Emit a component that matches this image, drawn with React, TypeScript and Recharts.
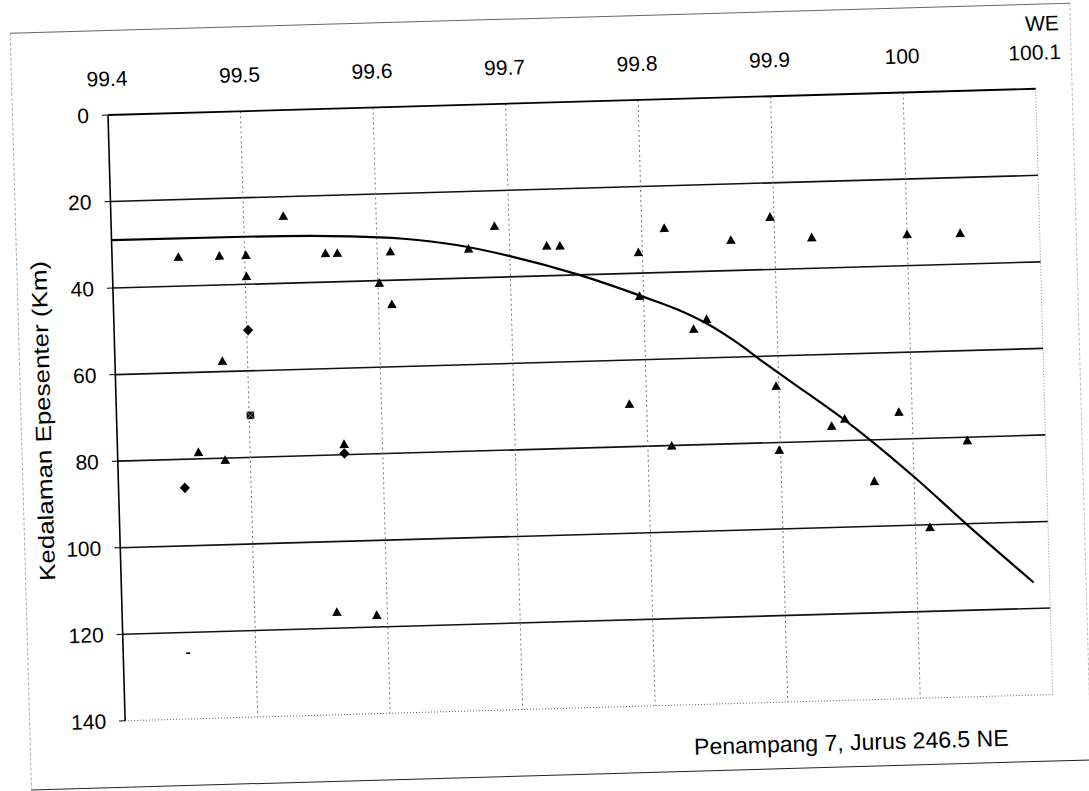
import React from 'react';
import {
  ComposedChart,
  Scatter,
  Line,
  XAxis,
  YAxis,
  CartesianGrid,
  ReferenceLine,
} from 'recharts';

// ---- data (longitude °E, depth km) ----
const lonTicks = [99.4, 99.5, 99.6, 99.7, 99.8, 99.9, 100.0, 100.1];
const depthTicks = [0, 20, 40, 60, 80, 100, 120, 140];
const depthGridValues = [20, 40, 60, 80, 100, 120];
const lonGridValues = [99.5, 99.6, 99.7, 99.8, 99.9, 100.0];

const trianglePoints: [number, number][] = [
  [99.450, 33.3], [99.481, 33.3], [99.501, 33.3], [99.501, 38.2], [99.530, 24.5],
  [99.561, 33.4], [99.570, 33.4], [99.610, 33.4], [99.601, 40.6], [99.610, 45.6],
  [99.481, 57.6], [99.571, 77.6], [99.461, 78.5], [99.481, 80.5], [99.562, 116.3],
  [99.592, 117.3], [99.689, 28.2], [99.669, 33.3], [99.728, 33.1], [99.738, 33.2],
  [99.797, 35.2], [99.817, 29.8], [99.867, 33.0], [99.897, 27.9], [99.797, 45.3],
  [99.847, 51.1], [99.837, 53.3], [99.898, 67.0], [99.787, 70.2], [99.818, 80.1],
  [99.899, 81.8], [99.928, 32.9], [100.000, 32.8], [100.040, 32.9], [99.990, 73.8],
  [99.949, 75.0], [99.939, 76.6], [100.041, 80.8], [99.970, 89.6], [100.011, 100.6],
];
const diamondPoints: [number, number][] = [
  [99.501, 50.6], [99.571, 79.7], [99.450, 86.6],
];
const squarePoints: [number, number][] = [[99.501, 70.3]];
const dashPoints: [number, number][] = [[99.449, 124.8]];

const curveLon = [99.40, 99.50, 99.58, 99.62, 99.66, 99.70, 99.75, 99.80, 99.83, 99.85, 99.87, 99.89, 99.92, 99.95, 100.00, 100.04, 100.088];
const curveDepth = [28.9, 29.0, 29.6, 30.5, 32.3, 35.2, 39.8, 45.5, 49.3, 52.6, 56.8, 61.6, 68.5, 75.5, 88.8, 100.5, 114.0];

const xTitle = 'WE';
const yTitle = 'Kedalaman Epesenter (Km)';
const caption = 'Penampang 7, Jurus 246.5 NE';

const toRows = (pts: [number, number][]) => pts.map(([lon, depth]) => ({ lon, depth }));
const triangles = toRows(trianglePoints);
const diamonds = toRows(diamondPoints);
const squares = toRows(squarePoints);
const dashes = toRows(dashPoints);
const curve = curveLon.map((lon, i) => ({ lon, depth: curveDepth[i] }));

const FONT = '"Liberation Sans", Arial, sans-serif';

const Triangle = (p: any) => (
  <polygon
    points={`${p.cx},${p.cy - 5} ${p.cx + 4.8},${p.cy + 3.7} ${p.cx - 4.8},${p.cy + 3.7}`}
    fill="#000"
  />
);
const Diamond = (p: any) => (
  <polygon
    points={`${p.cx},${p.cy - 5.3} ${p.cx + 5.1},${p.cy} ${p.cx},${p.cy + 5.3} ${p.cx - 5.1},${p.cy}`}
    fill="#000"
  />
);
const Square = (p: any) => (
  <g>
    <rect x={p.cx - 3.8} y={p.cy - 3.8} width={7.6} height={7.6} fill="#111" />
    <path
      d={`M${p.cx - 3.8},${p.cy - 3.8}L${p.cx + 3.8},${p.cy + 3.8}M${p.cx + 3.8},${p.cy - 3.8}L${p.cx - 3.8},${p.cy + 3.8}`}
      stroke="#888"
      strokeWidth={0.8}
    />
  </g>
);
const Dash = (p: any) => (
  <line x1={p.cx - 2} x2={p.cx + 2} y1={p.cy} y2={p.cy} stroke="#000" strokeWidth={1.6} />
);

const renderYTitle = (props: any) => {
  const vb = props.viewBox || { x: 0, y: 85, width: 96, height: 606 };
  const cx = vb.x + 22.5;
  const cy = vb.y + vb.height / 2 + 1;
  return (
    <text
      x={cx}
      y={cy}
      transform={`rotate(-90 ${cx} ${cy})`}
      textAnchor="middle"
      dominantBaseline="central"
      fontFamily={FONT}
      fontSize={22}
      textLength={320}
      lengthAdjust="spacingAndGlyphs"
      fill="#000"
    >
      {yTitle}
    </text>
  );
};

const renderXTitle = (props: any) => {
  const vb = props.viewBox || { x: 96, y: 0, width: 928, height: 85 };
  return (
    <text
      x={vb.x + vb.width + 25}
      y={vb.y + 27}
      textAnchor="end"
      fontFamily={FONT}
      fontSize={21}
      fill="#000"
    >
      {xTitle}
    </text>
  );
};

const fmtLon = (v: number) => String(Math.round(v * 10) / 10);

export default function App() {
  return (
    <div
      style={{
        position: 'absolute',
        left: 11.5,
        top: 30.3,
        width: 1061,
        height: 758,
        transformOrigin: '96px 85px',
        transform: 'rotate(-1.62deg)',
        background: 'transparent',
      }}
    >
      <ComposedChart
        width={1061}
        height={758}
        margin={{ top: 0, right: 37, bottom: 67, left: 0 }}
      >
        <CartesianGrid
          horizontal
          vertical={false}
          horizontalValues={depthGridValues}
          stroke="#111"
          strokeWidth={1.6}
        />
        <CartesianGrid
          horizontal={false}
          vertical
          verticalValues={lonGridValues}
          stroke="#777"
          strokeWidth={1}
          strokeDasharray="2 3"
        />
        <ReferenceLine y={140} stroke="#666" strokeWidth={1} strokeDasharray="1 2" />
        <ReferenceLine x={100.1} stroke="#888" strokeWidth={1} strokeDasharray="1 2" />
        <XAxis
          xAxisId={0}
          type="number"
          dataKey="lon"
          orientation="top"
          domain={[99.4, 100.1]}
          ticks={lonTicks}
          interval={0}
          allowDataOverflow
          height={85}
          tickLine={false}
          tickSize={0}
          tickMargin={29}
          tickFormatter={fmtLon}
          axisLine={{ stroke: '#000', strokeWidth: 1.8 }}
          tick={{ fill: '#000', fontSize: 21, fontFamily: FONT }}
          label={renderXTitle}
        />
        <YAxis
          yAxisId={0}
          type="number"
          dataKey="depth"
          domain={[0, 140]}
          ticks={depthTicks}
          interval={0}
          reversed
          allowDataOverflow
          width={96}
          tickSize={6}
          tickMargin={13}
          tickLine={{ stroke: '#000', strokeWidth: 1 }}
          axisLine={{ stroke: '#000', strokeWidth: 1.6 }}
          tick={{ fill: '#000', fontSize: 21, fontFamily: FONT }}
          label={renderYTitle}
        />
        <Line
          data={curve}
          dataKey="depth"
          type="monotone"
          stroke="#000"
          strokeWidth={2.2}
          dot={false}
          activeDot={false}
          isAnimationActive={false}
        />
        <Scatter data={triangles} shape={Triangle} isAnimationActive={false} />
        <Scatter data={diamonds} shape={Diamond} isAnimationActive={false} />
        <Scatter data={squares} shape={Square} isAnimationActive={false} />
        <Scatter data={dashes} shape={Dash} isAnimationActive={false} />
      </ComposedChart>
      <div
        style={{
          position: 'absolute',
          left: 664,
          top: 720,
          fontFamily: FONT,
          fontSize: 23,
          lineHeight: '26px',
          whiteSpace: 'nowrap',
          color: '#000',
        }}
      >
        {caption}
      </div>
      <div
        style={{
          position: 'absolute',
          left: 0,
          top: 0,
          width: 1061,
          height: 758,
          boxSizing: 'border-box',
          borderTop: '1px solid #666',
          borderBottom: '1.5px solid #222',
          borderLeft: '1px dashed #aaa',
          borderRight: '1px dashed #bbb',
          pointerEvents: 'none',
        }}
      />
    </div>
  );
}
